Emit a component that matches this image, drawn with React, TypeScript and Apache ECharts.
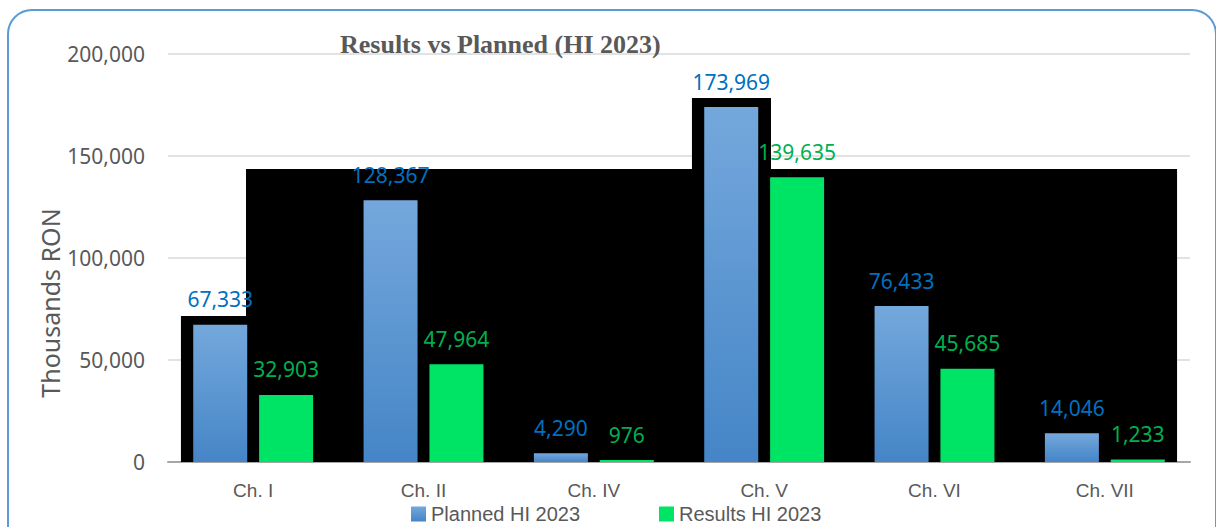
import React, { useEffect, useRef } from "react";
import * as echarts from "echarts";

const categories = ["Ch. I", "Ch. II", "Ch. IV", "Ch. V", "Ch. VI", "Ch. VII"];
const planned = [67333, 128367, 4290, 173969, 76433, 14046];
const results = [32903, 47964, 976, 139635, 45685, 1233];
const yTicks = { min: 0, max: 200000, interval: 50000 };
// dark backdrop behind the bars (stepped), in category-units along x and value-units along y
const backdropX = [0.076, 0.458, 3.076, 3.54, 5.924];
const backdropTop = [71600, 143600, 178400, 143600];

const FONT = "Noto Sans";
const FONT2 = "Liberation Sans";
const fmt = (v: number) => v.toLocaleString("en-US");

export default function App() {
  const ref = useRef<HTMLDivElement>(null);
  useEffect(() => {
    if (!ref.current) return;
    const chart = echarts.init(ref.current, null, { renderer: "svg" });
    const blueGrad = new echarts.graphic.LinearGradient(0, 0, 0, 1, [
      { offset: 0, color: "#74A8DC" },
      { offset: 1, color: "#4585C7" },
    ]);
    chart.setOption({
      animation: false,
      backgroundColor: "#ffffff",
      textStyle: { fontFamily: FONT },
      title: {
        text: "Results vs Planned (HI 2023)",
        left: 335,
        top: 26,
        textStyle: {
          fontFamily: "Liberation Serif",
          fontWeight: "bold",
          fontSize: 26,
          color: "#595959",
        },
      },
      legend: {
        data: ["Planned HI 2023", "Results HI 2023"],
        left: 406,
        top: 499,
        itemWidth: 15,
        itemHeight: 15,
        itemGap: 79,
        icon: "rect",
        textStyle: { fontFamily: FONT2, fontSize: 20, color: "#595959" },
      },
      grid: { left: 168, right: 26, top: 54, bottom: 65 },
      xAxis: [
        {
          type: "category",
          data: categories,
          axisTick: { show: false },
          axisLine: { lineStyle: { color: "#A6A6A6", width: 2 } },
          axisLabel: {
            fontFamily: FONT2,
            fontSize: 19,
            color: "#595959",
            margin: 19,
          },
        },
        { type: "value", min: 0, max: categories.length, show: false },
      ],
      yAxis: {
        type: "value",
        min: yTicks.min,
        max: yTicks.max,
        interval: yTicks.interval,
        axisLine: { show: false },
        axisTick: { show: false },
        splitLine: { lineStyle: { color: "#D9D9D9", width: 1.5 } },
        axisLabel: {
          fontFamily: FONT,
          fontSize: 21,
          color: "#595959",
          margin: 23,
          formatter: (v: number) => fmt(v),
        },
      },
      series: [
        {
          type: "custom",
          xAxisIndex: 1,
          yAxisIndex: 0,
          silent: true,
          data: [[0, 0]],
          renderItem: (_params: any, api: any) => {
            const pts: number[][] = [];
            pts.push(api.coord([backdropX[0], 0]));
            for (let i = 0; i < backdropTop.length; i++) {
              pts.push(api.coord([backdropX[i], backdropTop[i]]));
              pts.push(api.coord([backdropX[i + 1], backdropTop[i]]));
            }
            pts.push(api.coord([backdropX[backdropX.length - 1], 0]));
            return {
              type: "polygon",
              shape: { points: pts },
              style: { fill: "#000000" },
            };
          },
        },
        {
          name: "Planned HI 2023",
          type: "bar",
          data: planned,
          barWidth: 54,
          barGap: "22%",
          itemStyle: { color: blueGrad },
          label: {
            show: true,
            position: "top",
            distance: 15,
            fontFamily: FONT,
            fontSize: 21,
            color: "#0070C0",
            formatter: (p: any) => fmt(p.value),
          },
        },
        {
          name: "Results HI 2023",
          type: "bar",
          data: results,
          barWidth: 54,
          barGap: "22%",
          itemStyle: { color: "#00E466" },
          label: {
            show: true,
            position: "top",
            distance: 15,
            fontFamily: FONT,
            fontSize: 21,
            color: "#00B050",
            formatter: (p: any) => fmt(p.value),
          },
        },
      ],
      graphic: [
        {
          type: "text",
          x: 50,
          y: 303,
          rotation: Math.PI / 2,
          style: {
            text: "Thousands RON",
            fontFamily: FONT,
            fontSize: 25,
            fill: "#595959",
            textAlign: "center",
            textVerticalAlign: "middle",
          },
        },
        {
          type: "rect",
          shape: { x: 8, y: 10, width: 1208, height: 560, r: 24 },
          style: { fill: "none", stroke: "#5B9BD5", lineWidth: 2 },
          silent: true,
        },
      ],
    });
    return () => chart.dispose();
  }, []);
  return (
    <div
      ref={ref}
      style={{ position: "absolute", left: 0, top: 0, width: 1216, height: 527 }}
    />
  );
}
